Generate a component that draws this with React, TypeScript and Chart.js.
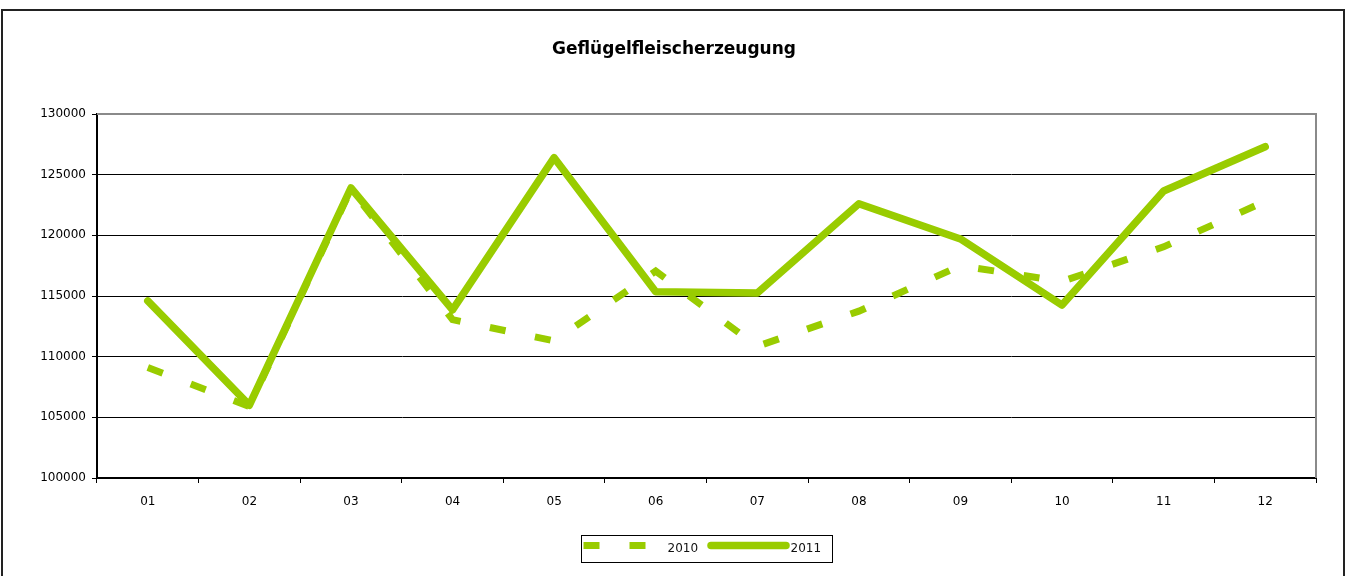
import React, { useEffect, useRef } from 'react';
import { Chart, registerables } from 'chart.js';

Chart.register(...registerables);

const TITLE = 'Geflügelfleischerzeugung';
const categories = ['01', '02', '03', '04', '05', '06', '07', '08', '09', '10', '11', '12'];
const labels = ['2010', '2011'];
const series2010 = [109100, 105900, 123800, 113050, 111300, 117050, 110850, 113750, 117500, 116200, 119050, 122800];
const series2011 = [114600, 106000, 123900, 113850, 126400, 115350, 115250, 122600, 119700, 114250, 123650, 127300];
const yMin = 100000;
const yMax = 130000;
const yStep = 5000;

const GREEN = '#99cc00';
const FONT = 'DejaVu Sans';

const titlePlugin = {
  id: 'frameTitle',
  afterDraw(chart: any) {
    const { ctx } = chart;
    ctx.save();
    ctx.fillStyle = '#000';
    ctx.font = `bold 17px "${FONT}"`;
    ctx.textAlign = 'center';
    ctx.textBaseline = 'middle';
    ctx.fillText(TITLE, 674, 50);
    ctx.restore();
  },
};

const plotFramePlugin = {
  id: 'plotFrame',
  beforeDatasetsDraw(chart: any) {
    const { ctx, chartArea } = chart;
    ctx.save();
    ctx.strokeStyle = '#8a8a8a';
    ctx.lineWidth = 2;
    ctx.beginPath();
    ctx.moveTo(chartArea.left, chartArea.top);
    ctx.lineTo(chartArea.right, chartArea.top);
    ctx.lineTo(chartArea.right, chartArea.bottom);
    ctx.stroke();
    ctx.restore();
  },
};

const boxLegendPlugin = {
  id: 'boxLegend',
  afterDraw(chart: any) {
    const { ctx, chartArea } = chart;
    const ds = chart.data.datasets;
    const cx = (chartArea.left + chartArea.right) / 2;
    const boxW = 251;
    const boxH = 27;
    const left = Math.round(cx - boxW / 2) + 0.5;
    const top = 535.5;
    ctx.save();
    ctx.strokeStyle = '#000';
    ctx.lineWidth = 1;
    ctx.strokeRect(left, top, boxW, boxH);
    const ly = top + 10;
    ctx.strokeStyle = ds[0].borderColor;
    ctx.lineWidth = ds[0].borderWidth;
    ctx.setLineDash(ds[0].borderDash);
    ctx.lineCap = 'butt';
    ctx.beginPath();
    ctx.moveTo(left + 2, ly);
    ctx.lineTo(left + 64, ly);
    ctx.stroke();
    ctx.setLineDash([]);
    ctx.strokeStyle = ds[1].borderColor;
    ctx.lineWidth = ds[1].borderWidth;
    ctx.lineCap = 'round';
    ctx.beginPath();
    ctx.moveTo(left + 129.5, ly);
    ctx.lineTo(left + 204.5, ly);
    ctx.stroke();
    ctx.fillStyle = '#111';
    ctx.font = `12px "${FONT}"`;
    ctx.textBaseline = 'middle';
    ctx.textAlign = 'left';
    ctx.fillText(ds[0].label, left + 86, top + 13);
    ctx.fillText(ds[1].label, left + 209, top + 13);
    ctx.restore();
  },
};

export default function App() {
  const ref = useRef<HTMLCanvasElement | null>(null);
  useEffect(() => {
    document.body.style.margin = '0';
    document.body.style.overflow = 'hidden';
    const chart = new Chart(ref.current as HTMLCanvasElement, {
      type: 'line',
      data: {
        labels: categories,
        datasets: [
          {
            label: labels[0],
            data: series2010,
            borderColor: GREEN,
            backgroundColor: GREEN,
            borderWidth: 7,
            borderDash: [16, 30],
            borderCapStyle: 'butt',
            borderJoinStyle: 'miter',
            pointRadius: 0,
            tension: 0,
            fill: false,
          },
          {
            label: labels[1],
            data: series2011,
            borderColor: GREEN,
            backgroundColor: GREEN,
            borderWidth: 7.5,
            borderCapStyle: 'round',
            borderJoinStyle: 'round',
            pointRadius: 0,
            tension: 0,
            fill: false,
          },
        ],
      },
      options: {
        responsive: false,
        animation: false,
        layout: { padding: { left: 0, right: 29, top: 114, bottom: 0 } },
        plugins: {
          legend: { display: false },
          tooltip: { enabled: false },
          title: { display: false },
        },
        scales: {
          x: {
            offset: true,
            grid: { offset: true, drawOnChartArea: false, drawTicks: true, tickLength: 5, color: '#000' },
            border: { display: true, color: '#000', width: 2 },
            ticks: { color: '#000', font: { family: FONT, size: 12 }, padding: 12, maxRotation: 0 },
            afterFit: (s: any) => { s.height = 98; },
          },
          y: {
            min: yMin,
            max: yMax,
            grid: { color: '#000', lineWidth: 1, tickLength: 5, drawTicks: true },
            border: { display: true, color: '#000', width: 2 },
            ticks: {
              stepSize: yStep,
              color: '#000',
              font: { family: FONT, size: 12 },
              padding: 6,
              callback: (v: any) => String(v),
            },
            afterFit: (s: any) => { s.width = 97; },
          },
        },
      },
      plugins: [plotFramePlugin, boxLegendPlugin, titlePlugin],
    } as any);
    return () => chart.destroy();
  }, []);
  return (
    <div style={{ position: 'relative', width: 1345, height: 576, overflow: 'hidden', background: '#fff' }}>
      <div
        style={{
          position: 'absolute',
          left: 1,
          top: 9,
          width: 1344,
          height: 640,
          border: '2px solid #222',
          boxSizing: 'border-box',
        }}
      />
      <canvas ref={ref} width={1345} height={576} style={{ position: 'absolute', left: 0, top: 0, width: 1345, height: 576 }} />
    </div>
  );
}
